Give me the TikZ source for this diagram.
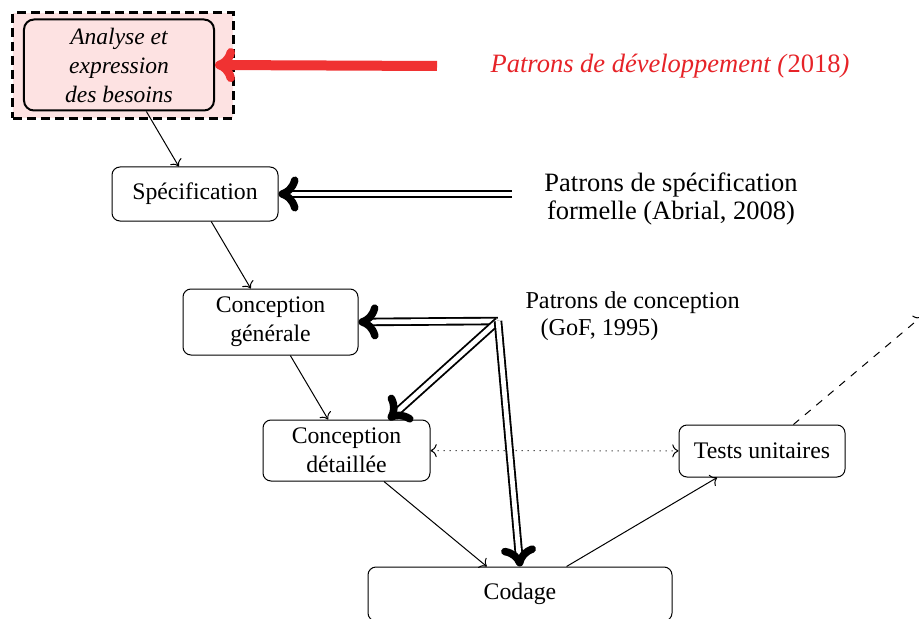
\documentclass[tikz,border=0pt]{standalone}
\usepackage{fontspec}
\setmainfont{Liberation Serif}
\usetikzlibrary{arrows.meta,calc}
\definecolor{pinkbg}{RGB}{253,226,226}
\definecolor{redarr}{RGB}{240,50,50}
\definecolor{redtxt}{RGB}{230,35,40}
\begin{document}
\begin{tikzpicture}[x=0.4pt,y=-0.4pt,
  box/.style={draw, rounded corners=3.2pt, line width=0.4pt, align=center,
    inner sep=0pt, font=\fontsize{9.5}{11.6}\selectfont},
  flow/.style={->, line width=0.4pt},
  dbl/.style={double, line width=0.75pt, double distance=1.9pt,
    -{To[round,length=8pt,width=14pt,line width=3pt]}},
  redarrow/.style={draw=redarr, line width=4pt,
    -{To[round,length=8pt,width=13.6pt,line width=3.4pt]}}]
\useasboundingbox (0,0) rectangle (919,619);

% outer dashed frame
\node[draw, fill=pinkbg, line width=1.2pt, dash pattern=on 3.6pt off 2pt,
  minimum width=88pt, minimum height=42pt, inner sep=0pt] (outer) at (123,65.5) {};
\node[box, line width=0.8pt, rounded corners=4pt, minimum width=76pt, minimum height=36.4pt,
  font=\fontsize{9.4}{11.6}\selectfont\itshape] (ana) at (119,65)
  {Analyse et\\expression\\des besoins};

\node[box, minimum width=66.4pt, minimum height=21.6pt] (spec) at (195,194) {Spécification};
\node[box, minimum width=70pt, minimum height=26.4pt] (cg) at (270.5,322) {Conception\\générale};
\node[box, minimum width=66.8pt, minimum height=24.4pt] (cd) at (346.5,450.5) {Conception\\détaillée};
\node[box, minimum width=121.6pt, minimum height=21.6pt] (codage) at (520,594) {Codage};
\node[box, minimum width=66.4pt, minimum height=20.8pt] (tests) at (762,451) {Tests unitaires};

% labels
\node[text=redtxt, font=\fontsize{10.6}{13}\selectfont, inner sep=0pt] (devlbl) at (670,66)
  {\textit{Patrons de développement (}2018\textit{)}};
\node[align=center, font=\fontsize{10.6}{11.2}\selectfont, inner sep=0pt] (speclbl) at (671,199)
  {Patrons de spécification\\formelle (Abrial, 2008)};
\node[align=left, font=\fontsize{9.7}{10.8}\selectfont, inner sep=0pt, anchor=west] (gof) at (525,316)
  {Patrons de conception\\\hspace*{6pt}(GoF, 1995)};

% coordinates
\coordinate (devsrc) at (437,66);
\coordinate (specsrc) at (512,194);
\coordinate (hub) at (498,321);
\coordinate (dashend) at (921,317);

% flow arrows
\draw[flow] (ana) -- (spec);
\draw[flow] (spec) -- (cg);
\draw[flow] (cg) -- (cd);
\draw[flow] (cd) -- (codage);
\draw[flow] (codage) -- (tests);
\draw[<->, line width=0.4pt, dotted] (cd) -- (tests);
\draw[->, line width=0.4pt, dashed] (tests) -- (dashend);

% pattern arrows
\draw[redarrow] (devsrc) -- (ana.east);
\draw[dbl] (specsrc) -- (spec.east);
\draw[dbl] (hub) -- (cg.east);
\draw[dbl] (hub) -- ($(cd.north)!0.5!(cd.north east)$);
\draw[dbl] (hub) -- (codage.north);
\end{tikzpicture}
\end{document}
